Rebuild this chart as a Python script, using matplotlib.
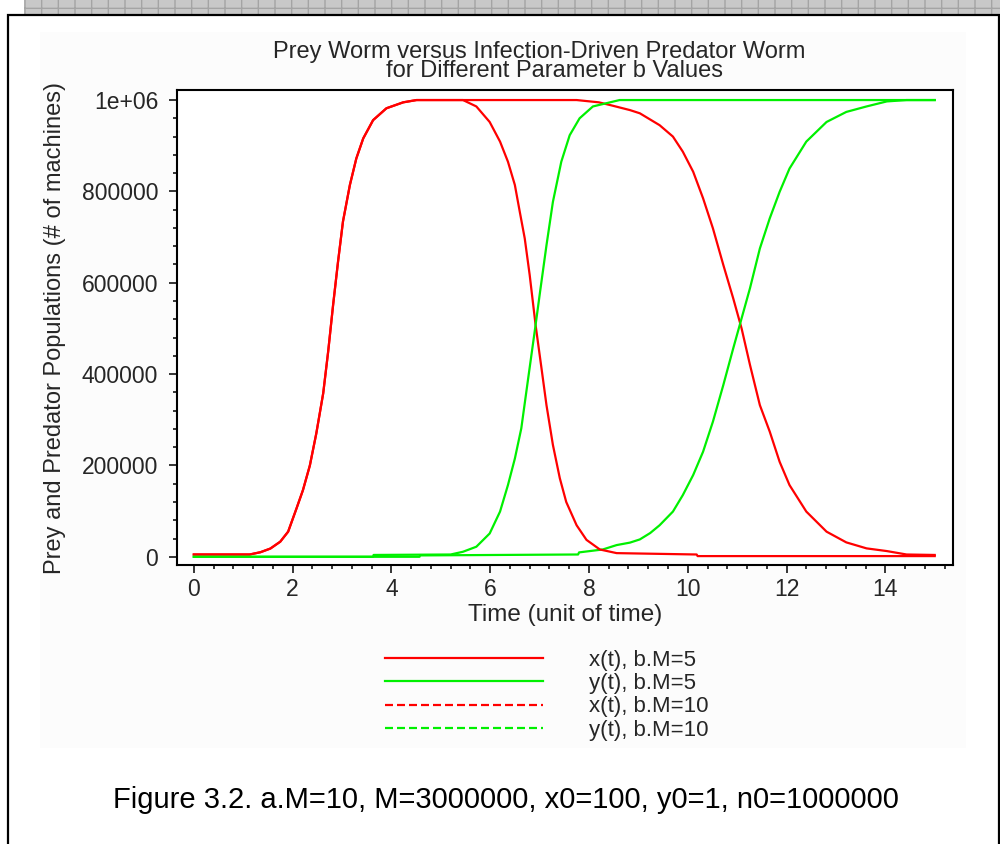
"""Prey worm vs infection-driven predator worm, two values of b.M (figure 3.2)."""

import matplotlib

matplotlib.use("Agg")
import matplotlib.pyplot as plt
from matplotlib.lines import Line2D
from matplotlib.patches import Rectangle
from matplotlib.ticker import MultipleLocator

plt.rcParams["font.family"] = ["Liberation Sans", "DejaVu Sans"]

# --------------------------------------------------------------------------- #
# data
# --------------------------------------------------------------------------- #
# prey x(t), b.M=10 (predator takes over early)
t_x10 = [0, 1.13, 1.35, 1.55, 1.75, 1.91, 2.08, 2.21, 2.35, 2.48, 2.62, 2.72, 2.82,
         2.92, 3.02, 3.16, 3.29, 3.43, 3.63, 3.90, 4.24, 4.51, 5.45, 5.72, 5.99, 6.20,
         6.36, 6.50, 6.60, 6.70, 6.80, 6.92, 7.04, 7.14, 7.27, 7.41, 7.54, 7.75, 7.95,
         8.22, 8.56, 10.18, 10.20, 15.0]
x_b10 = [5000, 5000, 10000, 18000, 33000, 55000, 106000, 146000, 200000, 270000, 358000,
         449000, 551000, 646000, 734000, 814000, 872000, 916000, 956000, 982000, 995000,
         1000000, 1000000, 986000, 952000, 909000, 865000, 814000, 755000, 697000, 617000,
         507000, 412000, 332000, 245000, 172000, 120000, 69000, 37000, 16000, 8000, 5000,
         1500, 1500]

# prey x(t), b.M=5
t_x5 = [0, 1.13, 1.35, 1.55, 1.75, 1.91, 2.08, 2.21, 2.35, 2.48, 2.62, 2.72, 2.82,
        2.92, 3.02, 3.16, 3.29, 3.43, 3.63, 3.90, 4.24, 4.51, 7.75, 8.20, 8.43, 8.83,
        9.03, 9.43, 9.70, 9.90, 10.11, 10.31, 10.51, 10.72, 10.92, 11.09, 11.26, 11.46,
        11.66, 11.86, 12.06, 12.40, 12.81, 13.21, 13.62, 14.03, 14.43, 15.0]
x_b5 = [5000, 5000, 10000, 18000, 33000, 55000, 106000, 146000, 200000, 270000, 358000,
        449000, 551000, 646000, 734000, 814000, 872000, 916000, 956000, 982000, 995000,
        1000000, 1000000, 995000, 989000, 978000, 971000, 945000, 920000, 887000, 843000,
        785000, 719000, 639000, 566000, 500000, 420000, 332000, 274000, 208000, 157000,
        99000, 55000, 31500, 18400, 12500, 5000, 4000]

# predator y(t), b.M=10
t_y10 = [0, 3.63, 3.64, 5.20, 5.45, 5.72, 5.99, 6.20, 6.36, 6.50, 6.63, 6.77, 6.91,
         7.01, 7.14, 7.27, 7.44, 7.61, 7.81, 8.08, 8.62, 15.0]
y_b10 = [0, 0, 4000, 5000, 11000, 22000, 51000, 99000, 157000, 215000, 281000, 391000,
         500000, 580000, 682000, 777000, 865000, 923000, 960000, 986000, 1000000, 1000000]

# predator y(t), b.M=5
t_y5 = [0, 4.57, 4.58, 7.78, 7.80, 8.28, 8.56, 8.83, 9.03, 9.24, 9.43, 9.70, 9.90,
        10.11, 10.31, 10.51, 10.72, 10.92, 11.09, 11.26, 11.46, 11.66, 11.86, 12.06,
        12.40, 12.81, 13.21, 13.62, 14.03, 14.43, 15.0]
y_b5 = [0, 0, 3000, 5000, 9600, 16000, 25600, 31000, 38000, 52000, 69000, 99000,
        135000, 179000, 230000, 296000, 376000, 456000, 522000, 588000, 675000, 741000,
        799000, 850000, 909000, 952000, 974000, 986000, 997000, 1000000, 1000000]

xticks = [0, 2, 4, 6, 8, 10, 12, 14]
yticks = [0, 200000, 400000, 600000, 800000, 1000000]
ytick_labels = ["0", "200000", "400000", "600000", "800000", "1e+06"]
labels = ["x(t), b.M=5", "y(t), b.M=5", "x(t), b.M=10", "y(t), b.M=10"]

RED = "#ff0000"
GREEN = "#00f000"
TXT = "#262626"

# --------------------------------------------------------------------------- #
# page decoration: hatched strip, document frame, faint image background
# --------------------------------------------------------------------------- #
W, H = 1000, 844
fig = plt.figure(figsize=(W / 100, H / 100), dpi=100)
fig.patch.set_facecolor("white")

fig.add_artist(Rectangle((24 / W, 1 - 14 / H), 1, 14 / H, transform=fig.transFigure,
                         facecolor="#c8c8c8", edgecolor="#a4a4a4", hatch="+",
                         linewidth=0, zorder=0))
fig.add_artist(Rectangle((8 / W, -0.05), 991 / W, 1.05 - 15 / H, transform=fig.transFigure,
                         fill=False, edgecolor="black", linewidth=1.6, zorder=1))
fig.add_artist(Rectangle((40 / W, 1 - 748 / H), 926 / W, 716 / H, transform=fig.transFigure,
                         facecolor="#fcfcfc", edgecolor="none", zorder=0))

# --------------------------------------------------------------------------- #
# main axes
# --------------------------------------------------------------------------- #
ax = fig.add_axes([177 / W, 1 - 565 / H, 776 / W, 475 / H])
ax.set_facecolor("white")

lx5, = ax.plot(t_x5, x_b5, color=RED, lw=1.6)
ly5, = ax.plot(t_y5, y_b5, color=GREEN, lw=1.6)
lx10, = ax.plot(t_x10, x_b10, color=RED, lw=1.6)
ly10, = ax.plot(t_y10, y_b10, color=GREEN, lw=1.6)

ax.set_xlim(-0.34, 15.37)
ax.set_ylim(-18000, 1022000)
ax.set_xticks(xticks)
ax.set_yticks(yticks, labels=ytick_labels)
ax.xaxis.set_minor_locator(MultipleLocator(0.4))
ax.yaxis.set_minor_locator(MultipleLocator(40000))
ax.tick_params(which="major", direction="out", length=5.5, width=1.1, labelsize=16.5,
               labelcolor=TXT, pad=4)
ax.tick_params(which="minor", direction="out", length=3, width=1.1)
ax.tick_params(axis="y", pad=8)
for s in ax.spines.values():
    s.set_linewidth(1.5)

ax.set_xlabel("Time (unit of time)", fontsize=17.5, color=TXT, labelpad=2)
ax.set_ylabel("Prey and Predator Populations (# of machines)", fontsize=17, color=TXT,
              labelpad=11)

fig.text(539 / W, 1 - 52 / H, "Prey Worm versus Infection-Driven Predator Worm",
         ha="center", va="center", fontsize=17, color=TXT)
fig.text(555 / W, 1 - 71 / H, "for Different Parameter b Values",
         ha="center", va="center", fontsize=17, color=TXT)

# legend: the b.M=10 curves are listed dashed
handles = [
    Line2D([], [], color=RED, lw=1.6),
    Line2D([], [], color=GREEN, lw=1.6),
    Line2D([], [], color=RED, lw=1.6, dashes=(3.6, 1.8)),
    Line2D([], [], color=GREEN, lw=1.6, dashes=(3.6, 1.8)),
]
fig.legend(handles, labels, loc="upper left", bbox_to_anchor=(385 / W, 1 - 650 / H),
           bbox_transform=fig.transFigure, frameon=False, fontsize=16, borderpad=0,
           borderaxespad=0, handlelength=7.1, handletextpad=2.1, labelspacing=0.1,
           labelcolor=TXT)

fig.text(506 / W, 1 - 800 / H,
         "Figure 3.2. a.M=10, M=3000000, x0=100, y0=1, n0=1000000",
         ha="center", va="center", fontsize=21, color="black")

fig.savefig("out.png", dpi=100)
